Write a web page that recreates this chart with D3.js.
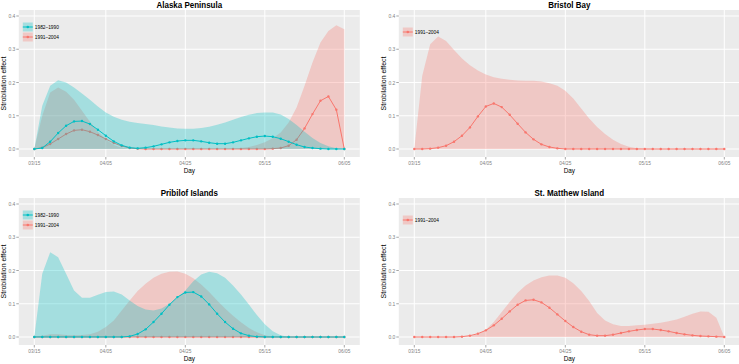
<!DOCTYPE html>
<html><head><meta charset="utf-8">
<script src="https://cdn.jsdelivr.net/npm/d3@7"></script>
<style>body{margin:0;background:#fff}svg{display:block}</style>
</head><body>
<svg id="c" width="739" height="364"></svg>
<script>
// ---- data ----
const dayTicks = [0, 9, 19, 29, 39];
const dayLabels = ["03/15", "04/05", "04/25", "05/15", "06/05"];
const yTicks = [0, 0.1, 0.2, 0.3, 0.4];
const seriesNames = ["1982\u20131990", "1991\u20132004"];
const seriesColors = ["#00BFC4", "#F8766D"];
const panelTitles = ["Alaska Peninsula", "Bristol Bay", "Pribilof Islands", "St. Matthew Island"];
const dayIndex = d3.range(40);

const alaska8290Mean = [0,0.003,0.022,0.048,0.07,0.083,0.084,0.075,0.058,0.04,0.023,0.011,0.004,0.002,0.004,0.008,0.014,0.02,0.024,0.026,0.026,0.023,0.019,0.016,0.016,0.02,0.026,0.032,0.037,0.039,0.037,0.031,0.022,0.013,0.006,0.003,0.001,0,0,0];
const alaska8290Upper = [0,0.13,0.19,0.207,0.2,0.185,0.167,0.148,0.128,0.11,0.097,0.088,0.082,0.078,0.075,0.072,0.068,0.065,0.062,0.061,0.061,0.063,0.067,0.073,0.08,0.088,0.096,0.103,0.108,0.11,0.11,0.104,0.09,0.072,0.052,0.033,0.018,0.008,0.002,0];
const alaska9104Mean = [0,0.004,0.015,0.03,0.045,0.056,0.058,0.052,0.042,0.03,0.018,0.009,0.003,0.001,0,0,0,0,0,0,0,0,0,0,0,0,0,0,0,0,0.001,0.003,0.01,0.028,0.062,0.105,0.145,0.158,0.118,0];
const alaska9104Upper = [0,0.1,0.17,0.185,0.172,0.148,0.115,0.082,0.052,0.028,0.012,0.004,0.001,0,0,0,0,0,0,0,0,0,0,0,0,0.001,0.003,0.006,0.012,0.02,0.032,0.05,0.08,0.125,0.19,0.26,0.32,0.355,0.372,0.36];

const bristol9104Mean = [0,0,0.001,0.004,0.01,0.022,0.04,0.065,0.098,0.128,0.137,0.126,0.103,0.076,0.05,0.029,0.014,0.006,0.002,0,0,0,0,0,0,0,0,0,0,0,0,0,0,0,0,0,0,0,0,0];
const bristol9104Upper = [0,0.22,0.315,0.338,0.325,0.298,0.272,0.252,0.236,0.224,0.216,0.211,0.208,0.206,0.205,0.205,0.203,0.198,0.19,0.175,0.152,0.122,0.092,0.066,0.045,0.028,0.015,0.007,0.002,0.001,0,0,0,0,0,0,0,0,0,0];

const pribilof8290Mean = [0,0,0,0,0,0,0,0,0,0,0,0,0.002,0.009,0.023,0.045,0.07,0.097,0.12,0.134,0.135,0.122,0.098,0.07,0.045,0.025,0.011,0.004,0.001,0,0,0,0,0,0,0,0,0,0,0];
const pribilof8290Upper = [0,0.19,0.255,0.24,0.19,0.14,0.118,0.118,0.127,0.135,0.137,0.128,0.11,0.093,0.083,0.08,0.086,0.1,0.118,0.14,0.168,0.188,0.196,0.192,0.178,0.155,0.128,0.098,0.066,0.038,0.017,0.005,0,0,0,0,0,0,0,0];
const pribilof9104Mean = [0,0,0,0,0,0,0,0,0,0,0,0,0,0,0,0,0,0,0,0,0,0,0,0,0,0,0,0,0,0,0,0,0,0,0,0,0,0,0,0];
const pribilof9104Upper = [0,0.004,0.008,0.008,0.006,0.005,0.006,0.008,0.016,0.03,0.05,0.08,0.11,0.138,0.16,0.178,0.19,0.196,0.197,0.19,0.177,0.158,0.135,0.11,0.086,0.064,0.044,0.027,0.014,0.005,0.001,0,0,0,0,0,0,0,0,0];

const stmatthew9104Mean = [0,0,0,0,0,0,0.001,0.004,0.01,0.02,0.035,0.055,0.077,0.097,0.11,0.112,0.104,0.088,0.068,0.048,0.03,0.016,0.007,0.004,0.004,0.007,0.012,0.017,0.021,0.024,0.024,0.021,0.017,0.012,0.008,0.005,0.003,0.002,0.001,0];
const stmatthew9104Upper = [0,0,0,0,0,0,0,0.002,0.008,0.022,0.045,0.075,0.105,0.133,0.155,0.17,0.18,0.185,0.185,0.178,0.162,0.138,0.108,0.072,0.05,0.038,0.033,0.033,0.035,0.037,0.04,0.043,0.047,0.053,0.061,0.07,0.077,0.076,0.058,0];

// ---- panels (draw order: 1991–2004 first, then 1982–1990 on top) ----
const panels = [
  {title: panelTitles[0], col: 0, row: 0, series: [
    {s: 1, mean: alaska9104Mean, upper: alaska9104Upper},
    {s: 0, mean: alaska8290Mean, upper: alaska8290Upper}]},
  {title: panelTitles[1], col: 1, row: 0, series: [
    {s: 1, mean: bristol9104Mean, upper: bristol9104Upper}]},
  {title: panelTitles[2], col: 0, row: 1, series: [
    {s: 1, mean: pribilof9104Mean, upper: pribilof9104Upper},
    {s: 0, mean: pribilof8290Mean, upper: pribilof8290Upper}]},
  {title: panelTitles[3], col: 1, row: 1, series: [
    {s: 1, mean: stmatthew9104Mean, upper: stmatthew9104Upper}]}
];

const svg = d3.select("#c");
const colLeft = [18.8, 398.8], panelW = 341;
const rowTop = [10, 198], panelH = 147;
const SX = 0.86;
const FONT = "'Liberation Sans', Arial, Helvetica, sans-serif";
const bg = "#EBEBEB";

function htext(g, x, y, str, size, anchor, weight, fill) {
  return g.append("text")
    .attr("transform", `translate(${x},${y}) scale(${SX},1)`)
    .attr("text-anchor", anchor || "start")
    .attr("font-family", FONT)
    .attr("font-size", size)
    .attr("font-weight", weight || "normal")
    .attr("fill", fill || "#000")
    .text(str);
}

panels.forEach((p, pi) => {
  const L = colLeft[p.col], T = rowTop[p.row];
  const x = d3.scaleLinear().domain([-1.95, 40.95]).range([L, L + panelW]);
  const y = d3.scaleLinear().domain([-8 / 332.5, 0.4 + 6 / 332.5]).range([T + panelH, T]);
  const g = svg.append("g");

  g.append("rect").attr("x", L).attr("y", T).attr("width", panelW).attr("height", panelH).attr("fill", bg);
  const clipId = "clip" + pi;
  g.append("clipPath").attr("id", clipId).append("rect")
    .attr("x", L).attr("y", T).attr("width", panelW).attr("height", panelH);

  // grid
  const grid = g.append("g").attr("clip-path", `url(#${clipId})`);
  yTicks.forEach(v => grid.append("line").attr("x1", L).attr("x2", L + panelW)
    .attr("y1", y(v)).attr("y2", y(v)).attr("stroke", "#fff").attr("stroke-width", 1));
  dayTicks.forEach(v => grid.append("line").attr("y1", T).attr("y2", T + panelH)
    .attr("x1", x(v)).attr("x2", x(v)).attr("stroke", "#fff").attr("stroke-width", 1));

  // series
  const plot = g.append("g").attr("clip-path", `url(#${clipId})`);
  p.series.forEach(sr => {
    const col = seriesColors[sr.s];
    const area = d3.area().x(i => x(i)).y0(() => y(0)).y1(i => y(sr.upper[i]));
    plot.append("path").datum(dayIndex).attr("d", area).attr("fill", col).attr("fill-opacity", 0.3);
    const line = d3.line().x(i => x(i)).y(i => y(sr.mean[i]));
    plot.append("path").datum(dayIndex).attr("d", line).attr("fill", "none")
      .attr("stroke", col).attr("stroke-width", 1);
    plot.selectAll(null).data(dayIndex).enter().append("circle")
      .attr("cx", i => x(i)).attr("cy", i => y(sr.mean[i])).attr("r", 1.2).attr("fill", col);
  });

  // axes
  const axG = g.append("g");
  yTicks.forEach(v => {
    axG.append("line").attr("x1", L - 2.5).attr("x2", L).attr("y1", y(v)).attr("y2", y(v))
      .attr("stroke", "#7F7F7F").attr("stroke-width", 0.7);
    htext(axG, L - 3.5, y(v) + 2, d3.format(".1f")(v), 5.8, "end", "normal", "#7F7F7F");
  });
  dayTicks.forEach((v, k) => {
    axG.append("line").attr("x1", x(v)).attr("x2", x(v)).attr("y1", T + panelH).attr("y2", T + panelH + 2.5)
      .attr("stroke", "#7F7F7F").attr("stroke-width", 0.7);
    htext(axG, x(v), T + panelH + 7.9, dayLabels[k], 5.6, "middle", "normal", "#7F7F7F");
  });
  htext(axG, L + panelW / 2, T + panelH + 15.8, "Day", 7.4, "middle");
  axG.append("text")
    .attr("transform", `translate(${L - 12.6},${T + panelH / 2}) rotate(-90)`)
    .attr("text-anchor", "middle").attr("font-family", FONT).attr("font-size", 7)
    .attr("fill", "#000").text("Strobilation effect");

  // title
  htext(g, L + panelW / 2, T - 1.8, p.title, 9.3, "middle", "bold");

  // legend (order: 1982–1990 first)
  const legItems = p.series.slice().sort((a, b) => a.s - b.s);
  const n = legItems.length;
  const cy0 = T + 22 - (n - 1) * 5;
  legItems.forEach((sr, k) => {
    const col = seriesColors[sr.s];
    const cy = cy0 + k * 10;
    const kx = L + 4;
    g.append("rect").attr("x", kx).attr("y", cy - 4.5).attr("width", 10).attr("height", 9)
      .attr("fill", col).attr("fill-opacity", 0.3);
    g.append("line").attr("x1", kx).attr("x2", kx + 10).attr("y1", cy).attr("y2", cy)
      .attr("stroke", col).attr("stroke-width", 1);
    g.append("circle").attr("cx", kx + 5).attr("cy", cy).attr("r", 1.3).attr("fill", col);
    htext(g, kx + 12, cy + 2, seriesNames[sr.s], 5.6, "start");
  });
});
</script>
</body></html>
